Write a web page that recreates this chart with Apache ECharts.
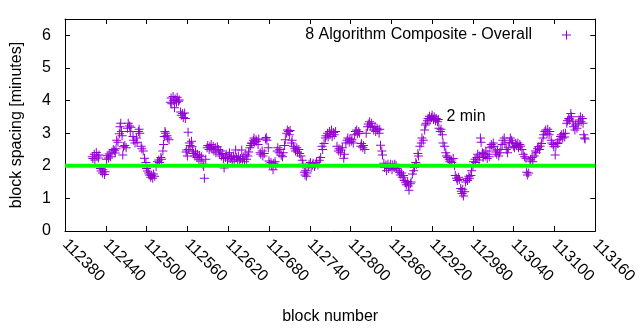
<!DOCTYPE html>
<html>
<head>
<meta charset="utf-8">
<script src="https://cdn.jsdelivr.net/npm/echarts@6/dist/echarts.min.js"></script>
<style>
  html, body { margin: 0; padding: 0; background: #ffffff; }
  #chart { width: 640px; height: 330px; }
</style>
</head>
<body>
<div id="chart"></div>
<script>
// Block spacing (minutes) per block, composite of 8 algorithms
const seriesName = '8 Algorithm Composite - Overall';
const spacingByBlock = [
  [112420,2.28],[112421,2.22],[112423,2.35],[112424,2.18],[112426,2.41],[112427,2.3],[112429,2.24],[112430,2.33],
  [112432,1.92],[112433,1.84],[112435,1.78],[112436,1.88],[112438,1.73],[112439,1.82],
  [112441,2.2],[112442,2.31],[112444,2.24],[112445,2.36],[112447,2.28],
  [112449,2.42],[112451,2.5],[112453,2.46],[112454,2.39],[112455,2.52],
  [112456,2.78],[112458,2.72],[112460,2.98],[112461,3.2],[112462,3.3],[112463,3.05],[112464,2.92],
  [112465,2.33],[112466,2.58],[112468,2.62],[112470,2.55],
  [112472,3.15],[112473,3.3],[112475,3.22],[112476,3.05],[112477,3.18],
  [112480,2.9],[112481,2.78],[112483,2.7],[112485,2.85],[112486,2.72],
  [112488,3.05],[112489,3.12],[112490,3.0],
  [112492,2.6],[112493,2.52],[112495,2.45],
  [112497,2.23],[112499,2.1],
  [112500,1.92],[112501,1.84],[112503,1.78],[112504,1.72],[112506,1.65],[112507,1.7],[112509,1.62],[112510,1.75],[112512,1.68],
  [112514,1.98],[112516,2.12],[112518,2.18],[112519,2.1],[112521,2.25],[112522,2.2],
  [112524,2.45],[112525,2.65],[112526,2.9],[112527,3.05],[112528,3.0],[112530,2.92],[112531,2.85],[112533,2.8],
  [112535,3.95],[112536,4.08],[112537,3.9],[112539,4.12],[112540,4.0],[112541,3.78],[112542,4.05],[112544,3.95],[112545,4.1],[112547,3.98],[112548,4.02],
  [112550,3.65],[112551,3.55],[112553,3.6],[112554,3.48],[112556,3.62],[112557,3.45],
  [112561,3.03],
  [112558,2.42],[112559,2.48],[112560,2.3],[112562,2.5],[112563,2.7],[112564,2.62],[112566,2.75],[112567,2.58],[112568,2.45],
  [112569,2.38],[112571,2.3],[112572,2.42],[112574,2.25],[112575,2.35],[112577,2.2],[112578,2.32],[112580,2.15],[112581,2.28],[112583,2.05],[112584,1.98],[112585,1.62],[112587,2.2],
  [112589,2.55],[112590,2.62],[112592,2.5],[112593,2.58],[112595,2.65],[112596,2.52],[112598,2.6],[112599,2.45],[112601,2.55],[112602,2.4],[112604,2.58],[112606,2.5],[112607,2.35],
  [112609,2.45],[112610,2.3],[112612,2.38],[112613,2.22],[112614,1.93],[112616,2.25],[112617,2.35],[112619,2.18],[112620,2.3],[112622,2.4],[112623,2.22],[112625,2.28],[112626,2.12],[112628,2.3],[112629,2.2],
  [112631,2.48],[112632,2.25],[112634,2.18],[112635,2.3],[112637,2.15],[112638,2.22],[112640,2.48],[112641,2.2],[112643,2.28],[112644,2.12],[112646,2.35],[112647,2.2],[112649,2.3],
  [112650,2.42],[112652,2.55],[112653,2.62],[112654,2.7],[112655,2.68],[112657,2.78],[112658,2.85],[112659,2.72],[112661,2.8],[112662,2.75],[112664,2.65],[112665,2.82],
  [112667,2.4],[112668,2.35],[112670,2.45],[112671,2.3],[112673,2.38],
  [112675,2.82],[112676,2.87],[112677,2.78],[112679,2.55],
  [112680,2.15],[112681,2.05],[112683,2.1],[112684,2.0],[112686,1.88],[112687,2.08],[112689,2.12],[112690,2.02],
  [112692,2.45],[112693,2.55],[112695,2.4],[112696,2.5],[112698,2.32],[112700,2.28],[112701,2.4],
  [112703,2.62],[112704,2.8],[112706,3.0],[112707,3.1],[112709,3.05],[112710,2.95],[112711,3.08],
  [112713,2.7],[112714,2.78],[112716,2.6],
  [112718,2.52],[112719,2.45],[112721,2.55],[112722,2.42],[112724,2.5],[112725,2.38],[112727,2.3],
  [112729,2.17],[112730,2.05],[112732,1.8],[112733,1.72],[112734,1.85],[112735,1.68],[112736,1.78],
  [112738,1.98],[112739,2.05],[112741,2.1],[112742,1.95],[112744,2.02],[112745,2.08],[112747,1.98],[112748,2.05],
  [112750,2.1],[112752,2.02],[112754,2.17],[112756,2.25],
  [112758,2.6],[112759,2.5],[112761,2.68],
  [112763,2.85],[112764,2.92],[112766,3.0],[112767,2.88],[112769,3.05],[112770,2.95],[112772,3.1],[112773,2.9],[112775,3.02],[112776,2.95],[112778,3.05],
  [112780,2.6],[112782,2.45],[112783,2.52],[112785,2.4],[112786,2.48],[112788,2.55],
  [112790,2.23],[112791,2.35],
  [112793,2.7],[112795,2.78],[112796,2.85],[112798,2.72],[112799,2.82],[112801,2.75],[112802,2.8],[112804,2.7],
  [112806,2.95],[112807,3.05],[112809,3.1],[112810,2.98],[112812,3.05],[112813,3.0],
  [112815,2.6],[112816,2.68],[112818,2.55],[112819,2.62],[112821,2.5],
  [112823,3.0],[112825,3.2],[112826,3.28],[112828,3.35],[112829,3.22],[112831,3.3],[112832,3.18],
  [112834,3.1],[112836,3.2],[112837,3.05],[112839,3.15],[112840,3.1],[112842,3.0],[112843,3.12],
  [112844,2.63],[112846,2.45],[112847,2.33],
  [112849,2.08],[112850,1.95],[112852,2.02],[112853,1.85],[112855,2.05],[112856,1.92],[112858,1.98],[112859,2.05],[112861,1.88],[112862,2.02],[112864,1.95],[112865,2.05],[112867,2.0],[112868,1.92],
  [112870,1.85],[112872,1.8],[112873,1.72],[112875,1.78],[112876,1.65],[112878,1.7],[112879,1.55],[112881,1.48],[112882,1.42],[112884,1.52],[112885,1.38],[112886,1.25],[112888,1.45],[112889,1.5],
  [112891,1.75],[112893,1.85],[112894,1.95],[112896,2.1],[112897,2.05],[112899,2.38],[112900,2.3],[112902,2.6],[112904,2.7],[112905,2.85],[112907,2.78],
  [112909,3.1],[112910,3.25],[112911,3.3],[112913,3.38],[112914,3.45],[112916,3.52],[112917,3.4],[112919,3.48],[112920,3.55],[112922,3.42],[112923,3.5],[112925,3.38],[112926,3.45],[112928,3.35],[112929,3.42],
  [112930,3.15],[112932,3.05],[112933,3.12],[112935,2.95],[112936,2.7],[112938,2.6],[112940,2.4],[112941,2.3],[112943,2.25],[112945,2.2],[112946,2.12],[112948,2.18],[112949,2.1],[112951,2.22],
  [112953,2.0],[112954,1.7],[112956,1.62],[112957,1.55],[112959,1.65],[112960,1.58],[112962,1.3],[112963,1.22],[112964,1.15],[112965,1.28],[112966,1.07],[112968,1.2],[112969,1.5],[112971,1.6],[112972,1.55],[112974,1.68],[112975,1.62],[112977,1.7],[112978,1.85],
  [112980,2.0],[112981,2.12],[112983,2.2],[112984,2.1],[112986,2.25],[112987,2.35],[112989,2.18],[112990,2.3],[112991,2.85],[112992,2.72],[112994,2.4],
  [112995,2.25],[112996,2.38],[112998,2.3],[112999,2.45],[113001,2.22],[113002,2.35],[113004,2.28],
  [113005,2.55],[113007,2.65],[113008,2.6],[113010,2.7],[113011,2.58],
  [113013,2.42],[113015,2.35],[113016,2.48],[113018,2.3],[113019,2.4],[113021,2.5],
  [113023,2.65],[113024,2.78],[113026,2.85],[113027,2.7],
  [113029,2.5],[113031,2.4],[113032,2.55],
  [113034,2.72],[113035,2.85],[113037,2.78],[113038,2.7],
  [113040,2.6],[113041,2.55],[113043,2.68],[113044,2.62],[113046,2.7],[113047,2.55],[113049,2.65],[113050,2.6],[113052,2.5],
  [113054,2.35],[113056,2.28],[113058,2.23],
  [113059,1.8],[113060,1.72],[113062,1.78],
  [113064,2.15],[113065,2.2],[113067,2.25],[113068,2.12],[113070,2.3],
  [113072,2.45],[113073,2.4],[113075,2.52],[113076,2.58],[113078,2.5],[113079,2.6],[113081,2.68],
  [113083,2.85],[113084,2.95],[113086,3.05],[113087,3.1],[113089,3.0],[113090,3.12],[113092,2.95],[113093,3.05],
  [113095,2.78],[113096,2.7],[113098,2.65],[113099,2.58],[113101,2.33],[113102,2.6],[113104,2.72],[113105,2.68],
  [113107,2.8],[113109,2.9],[113110,2.95],[113112,2.85],[113113,2.98],[113115,2.88],[113116,3.0],
  [113118,3.3],[113119,3.38],[113121,3.45],[113122,3.4],[113124,3.6],[113125,3.5],[113127,3.35],
  [113128,3.2],[113130,3.1],[113131,3.25],[113133,3.15],
  [113135,3.3],[113136,3.4],[113138,3.5],[113139,3.35],[113141,3.45],[113142,3.3],
  [113143,2.95],[113144,2.85],[113145,2.82]
];

// Reference level and axis setup
const targetMinutes = 2;
const targetLabel = '2 min';
const targetLabelAt = [112941, 3.5];
const blockRange = [112380, 113160];
const blockTickStep = 60;
const spacingRange = [0, 6.5];
const spacingTickStep = 1;

const FONT = '"Liberation Sans", Arial, sans-serif';
const PURPLE = '#9400d3';
const PLUS = 'path://M4,0h1v4h4v1h-4v4h-1v-4h-4v-1h4z';

const chart = echarts.init(document.getElementById('chart'), null, { renderer: 'canvas' });

const frameLine = { show: true, onZero: false, lineStyle: { color: '#000', width: 1 } };
const innerTick = { show: true, inside: true, length: 5, lineStyle: { color: '#000', width: 1 } };
const textBase = { color: '#000', fontFamily: FONT, fontSize: 16 };

chart.setOption({
  animation: false,
  backgroundColor: '#ffffff',
  grid: { left: 65, right: 31, top: 19, bottom: 99, containLabel: false },
  legend: {
    data: [{ name: seriesName, icon: PLUS }],
    right: 69,
    top: 27,
    padding: 0,
    align: 'right',
    itemWidth: 9,
    itemHeight: 9,
    textStyle: Object.assign({}, textBase, { padding: [0, 25, 0, 0] }),
    selectedMode: false
  },
  xAxis: [
    {
      type: 'value', position: 'bottom',
      min: blockRange[0], max: blockRange[1], interval: blockTickStep,
      name: 'block number', nameLocation: 'middle', nameGap: 78,
      nameTextStyle: textBase,
      axisLine: frameLine, axisTick: innerTick, splitLine: { show: false },
      axisLabel: Object.assign({}, textBase, {
        rotate: -45, margin: 11,
        formatter: v => String(v)
      })
    },
    {
      type: 'value', position: 'top',
      min: blockRange[0], max: blockRange[1], interval: blockTickStep,
      axisLine: frameLine, axisTick: innerTick, splitLine: { show: false },
      axisLabel: { show: false }
    }
  ],
  yAxis: [
    {
      type: 'value', position: 'left',
      min: spacingRange[0], max: spacingRange[1], interval: spacingTickStep,
      name: 'block spacing [minutes]', nameLocation: 'middle', nameGap: 40,
      nameTextStyle: textBase,
      axisLine: frameLine, axisTick: innerTick, splitLine: { show: false },
      axisLabel: Object.assign({}, textBase, {
        margin: 14,
        formatter: v => (Number.isInteger(v) ? String(v) : '')
      })
    },
    {
      type: 'value', position: 'right',
      min: spacingRange[0], max: spacingRange[1], interval: spacingTickStep,
      axisLine: frameLine, axisTick: innerTick, splitLine: { show: false },
      axisLabel: { show: false }
    }
  ],
  series: [
    {
      name: seriesName,
      type: 'scatter',
      xAxisIndex: 0, yAxisIndex: 0,
      data: spacingByBlock,
      symbol: PLUS,
      symbolSize: 9,
      itemStyle: { color: PURPLE, opacity: 1 },
      silent: true
    },
    {
      name: targetLabel,
      type: 'line',
      xAxisIndex: 0, yAxisIndex: 0,
      data: [[blockRange[0], targetMinutes], [blockRange[1], targetMinutes]],
      symbol: 'none',
      lineStyle: { color: '#00ff00', width: 4 },
      silent: true,
      z: 3,
      markPoint: {
        symbol: 'circle',
        symbolSize: 0,
        silent: true,
        data: [{ coord: targetLabelAt }],
        label: Object.assign({}, textBase, {
          show: true, position: 'right', distance: 0, formatter: targetLabel
        })
      }
    }
  ]
});
</script>
</body>
</html>
